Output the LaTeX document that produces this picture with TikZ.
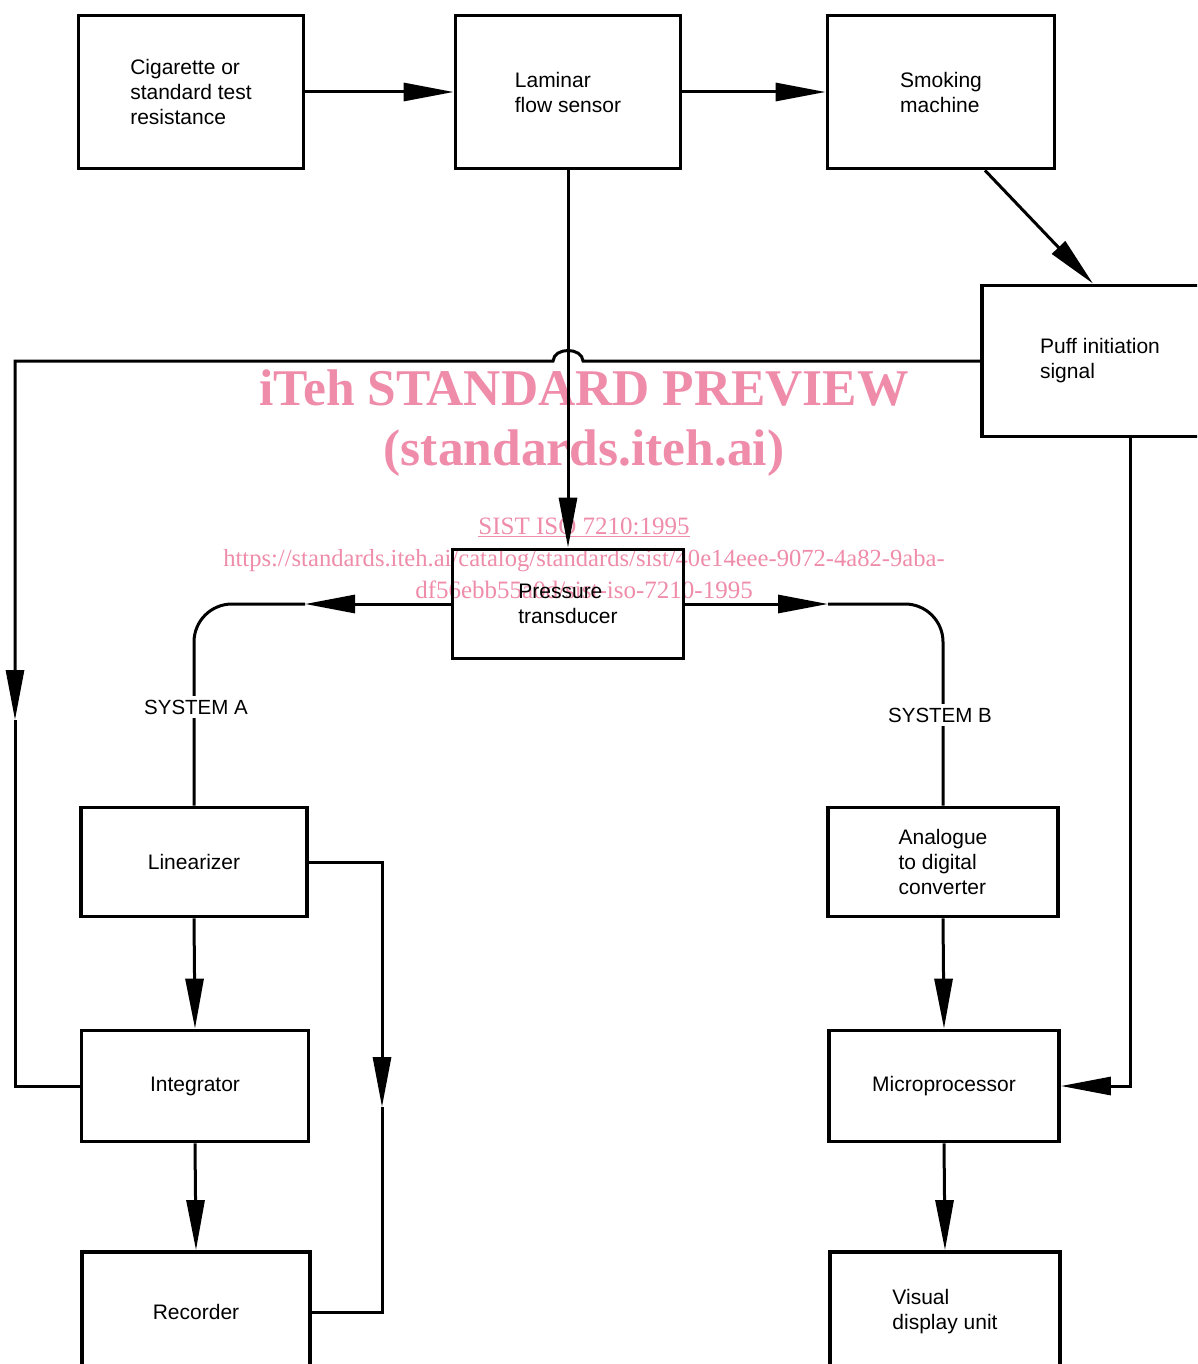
\documentclass[tikz,border=0pt]{standalone}
\usepackage{fontspec}
\setmainfont{Liberation Sans}
\newfontfamily\wmfont{Liberation Serif}
\usetikzlibrary{arrows.meta,calc}
\definecolor{wm}{RGB}{238,140,170}
\begin{document}
\begin{tikzpicture}[x=1pt,y=-1pt,
  box/.style={draw, line width=3.8pt, align=left, inner sep=0pt,
    font=\fontsize{21}{25}\selectfont},
  conn/.style={line width=3pt},
  tip/.style={-{Triangle[length=50pt,width=18pt]}},
  lbl/.style={fill=white, inner sep=4pt, font=\fontsize{20.5}{23}\selectfont},
  wmbig/.style={anchor=base, text=wm, inner sep=0pt, font=\wmfont\bfseries\fontsize{51.5}{56}\selectfont},
  wmsmall/.style={anchor=base, text=wm, inner sep=0pt, font=\wmfont\fontsize{25}{28}\selectfont}
]
\useasboundingbox (0,0) rectangle (1197,1364);
\clip (0,0) rectangle (1197,1364);

% watermark
\node[wmbig] (wm1) at (584,405) {iTeh STANDARD PREVIEW};
\node[wmbig] (wm2) at (584,465) {(standards.iteh.ai)};
\node[wmsmall] (wm3) at (584,534) {\underline{SIST ISO 7210:1995}};
\node[wmsmall, font=\wmfont\fontsize{24.6}{28}\selectfont] (wm4) at (584,566) {https://standards.iteh.ai/catalog/standards/sist/40e14eee-9072-4a82-9aba-};
\node[wmsmall] (wm5) at (584,598) {df56ebb55a0d/sist-iso-7210-1995};

% boxes
\node[box, minimum width=225pt, minimum height=153pt] (cig) at (191,92) {Cigarette or\\standard test\\resistance};
\node[box, minimum width=225pt, minimum height=153pt] (lam) at (568,92) {Laminar\\flow sensor};
\node[box, minimum width=227pt, minimum height=153pt] (smk) at (941,92) {Smoking\\machine};
\node[box, minimum width=236pt, minimum height=151pt] (puff) at (1100,361) {Puff initiation\\signal};
\node[box, minimum width=231pt, minimum height=109pt] (pt) at (568,604) {Pressure\\transducer};
\node[box, minimum width=226pt, minimum height=109pt] (lin) at (194,862) {Linearizer};
\node[box, minimum width=227pt, minimum height=111pt] (int) at (195,1086) {Integrator};
\node[box, minimum width=228pt, minimum height=120pt] (rec) at (196,1312) {Recorder};
\node[box, minimum width=230pt, minimum height=109pt] (ad) at (943,862) {Analogue\\to digital\\converter};
\node[box, minimum width=230pt, minimum height=111pt] (mic) at (944,1086) {Microprocessor};
\node[box, minimum width=230pt, minimum height=120pt] (vdu) at (945,1312) {Visual\\display unit};

% helper coordinates
\coordinate (la) at (15,720);
\coordinate (sa) at (305,604);
\coordinate (sb) at (828,604);
\coordinate (lr) at (382,1107);
\coordinate (pd) at ($(puff.south)+(30,0)$);

% connectors
\draw[conn,tip] (cig) -- (lam);
\draw[conn,tip] (lam) -- (smk);
\draw[conn,tip] ($(smk.south)+(44,0)$) -- ($(puff.north)+(-7,0)$);
\draw[conn,tip] (lam.south) -- (pt.north);

\draw[conn,tip] (puff.west) -- (583,361) .. controls (582,347) and (554,347) .. (553,361) -- (la |- puff.west) -- (la);
\draw[conn] (la) -- (la |- int.west) -- (int.west);

\draw[conn,tip] (pt.west) -- (sa);
\draw[conn,rounded corners=38pt] (sa) -- (lin.north |- sa) -- (lin.north);
\draw[conn,tip] (pt.east) -- (sb);
\draw[conn,rounded corners=38pt] (sb) -- (ad.north |- sb) -- (ad.north);

\draw[conn,tip] (lin.south) -- (int.north);
\draw[conn,tip] (int.south) -- (rec.north);
\draw[conn,tip] (lin.east) -- (lin.east -| lr) -- (lr);
\draw[conn] (lr) -- (lr |- rec.east) -- (rec.east);

\draw[conn,tip] (ad.south) -- (mic.north);
\draw[conn,tip] (mic.south) -- (vdu.north);
\draw[conn,tip] (pd) -- (pd |- mic.east) -- (mic.east);

% labels
\node[lbl] (sysa) at (196,707) {SYSTEM A};
\node[lbl] (sysb) at (940,715) {SYSTEM B};
\end{tikzpicture}
\end{document}
